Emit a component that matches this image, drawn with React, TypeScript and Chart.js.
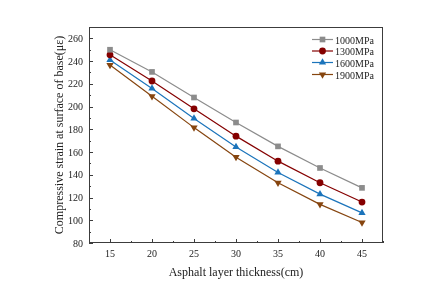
import React, { useEffect, useRef } from "react";
import { Chart, registerables } from "chart.js";

Chart.register(...registerables);

const thickness = [15, 20, 25, 30, 35, 40, 45];
const xTicks = [15, 20, 25, 30, 35, 40, 45];
const yTicks = [80, 100, 120, 140, 160, 180, 200, 220, 240, 260];
const s1000 = [250, 230.5, 208, 186, 165, 146, 128.5];
const s1300 = [245.5, 222.5, 198, 174, 152, 133, 116];
const s1600 = [241, 216, 189.5, 164.5, 142, 123, 106.5];
const s1900 = [236.5, 209, 181.5, 155.5, 133, 114, 98];
const seriesNames = ["1000MPa", "1300MPa", "1600MPa", "1900MPa"];
const seriesData = [s1000, s1300, s1600, s1900];
const colors = ["#8c8c8c", "#850000", "#1b74bb", "#86450f"];
const pointStyles = ["rect", "circle", "triangle", "triangle"];
const rotations = [0, 0, 0, 180];
const radii = [4, 3.4, 4.2, 4.2];

const FONT = "'Liberation Serif', 'Times New Roman', serif";
const AXIS = "#3c3c3c";
const TEXT = "#222";

function drawMarker(ctx: CanvasRenderingContext2D, style: string, rot: number, r: number, x: number, y: number) {
  ctx.beginPath();
  if (style === "rect") {
    const s = Math.SQRT1_2 * r;
    ctx.rect(x - s, y - s, 2 * s, 2 * s);
  } else if (style === "circle") {
    ctx.arc(x, y, r, 0, Math.PI * 2);
  } else {
    const a0 = ((rot - 90) * Math.PI) / 180;
    for (let k = 0; k < 3; k++) {
      const a = a0 + (k * 2 * Math.PI) / 3;
      const px = x + Math.cos(a) * r;
      const py = y + Math.sin(a) * r;
      if (k === 0) ctx.moveTo(px, py);
      else ctx.lineTo(px, py);
    }
    ctx.closePath();
  }
  ctx.fill();
}

const framePlugin = {
  id: "frame",
  afterDraw(chart: any) {
    const { ctx, chartArea } = chart;
    const { left, right, top, bottom } = chartArea;
    const xs = chart.scales.x;
    const ys = chart.scales.y;
    ctx.save();
    ctx.strokeStyle = AXIS;
    ctx.lineWidth = 1;
    ctx.strokeRect(left + 0.5, top + 0.5, right - left - 1, bottom - top - 1);
    ctx.beginPath();
    for (let v = 12.5; v <= 47.5; v += 2.5) {
      const px = Math.round(xs.getPixelForValue(v)) + 0.5;
      const major = v % 5 === 0;
      ctx.moveTo(px, bottom);
      ctx.lineTo(px, bottom - (major ? 4 : 2));
    }
    for (let v = 80; v <= 270; v += 10) {
      const py = Math.round(ys.getPixelForValue(v)) + 0.5;
      const major = v % 20 === 0;
      ctx.moveTo(left, py);
      ctx.lineTo(left + (major ? 4 : 2), py);
    }
    ctx.stroke();

    // legend
    const lx0 = 312;
    const lx1 = 333;
    const rowY = [39.5, 51, 62.5, 74.5];
    ctx.font = `10px ${FONT}`;
    ctx.textAlign = "left";
    ctx.textBaseline = "alphabetic";
    seriesNames.forEach((name, i) => {
      const y = rowY[i];
      ctx.strokeStyle = colors[i];
      ctx.lineWidth = 1.2;
      ctx.beginPath();
      ctx.moveTo(lx0, y);
      ctx.lineTo(lx1, y);
      ctx.stroke();
      ctx.fillStyle = colors[i];
      drawMarker(ctx, pointStyles[i], rotations[i], radii[i], (lx0 + lx1) / 2, y);
      ctx.fillStyle = TEXT;
      ctx.fillText(name, lx1 + 2, y + 4);
    });

    // y tick labels (drawn last, top to bottom)
    ctx.fillStyle = TEXT;
    ctx.textAlign = "right";
    ctx.textBaseline = "alphabetic";
    [...yTicks].reverse().forEach((v) => {
      ctx.fillText(String(v), left - 6, ys.getPixelForValue(v) + 3.5);
    });
    ctx.restore();
  },
};

export default function App() {
  const ref = useRef<HTMLCanvasElement>(null);
  useEffect(() => {
    document.body.style.margin = "0";
    const chart = new Chart(ref.current!, {
      type: "line",
      data: {
        datasets: seriesNames.map((name, i) => ({
          label: name,
          data: thickness.map((t, j) => ({ x: t, y: seriesData[i][j] })),
          borderColor: colors[i],
          backgroundColor: colors[i],
          borderWidth: 1.2,
          pointStyle: pointStyles[i] as any,
          rotation: rotations[i],
          pointRadius: radii[i],
          pointBorderWidth: 0,
          tension: 0,
        })),
      },
      options: {
        responsive: false,
        animation: false,
        layout: { padding: { left: 0, right: 49, top: 27, bottom: 0 } },
        plugins: { legend: { display: false }, tooltip: { enabled: false } },
        scales: {
          x: {
            type: "linear",
            min: 12.5,
            max: 47.5,
            afterBuildTicks: (s: any) => {
              s.ticks = xTicks.map((v) => ({ value: v }));
            },
            afterFit: (s: any) => {
              s.height = 52;
            },
            grid: { display: false, drawTicks: false },
            border: { display: false },
            ticks: { color: TEXT, font: { family: FONT, size: 10 }, padding: 5, autoSkip: false, maxRotation: 0 },
            title: {
              display: true,
              text: "Asphalt layer thickness(cm)",
              color: TEXT,
              font: { family: FONT, size: 12 },
              padding: { top: 15, bottom: 15 },
            },
          },
          y: {
            type: "linear",
            min: 80,
            max: 270,
            afterBuildTicks: (s: any) => {
              s.ticks = yTicks.map((v) => ({ value: v }));
            },
            afterFit: (s: any) => {
              s.width = 89;
            },
            grid: { display: false, drawTicks: false },
            border: { display: false },
            ticks: { display: false },
            title: {
              display: true,
              text: "Compressive strain at surface of base(με)",
              color: TEXT,
              font: { family: FONT, size: 12 },
              padding: { top: 53, bottom: 53 },
            },
          },
        },
      },
      plugins: [framePlugin],
    });
    return () => chart.destroy();
  }, []);
  return (
    <div style={{ position: "absolute", left: 0, top: 0, width: 432, height: 295, background: "#fff" }}>
      <canvas ref={ref} width={432} height={295} />
    </div>
  );
}
